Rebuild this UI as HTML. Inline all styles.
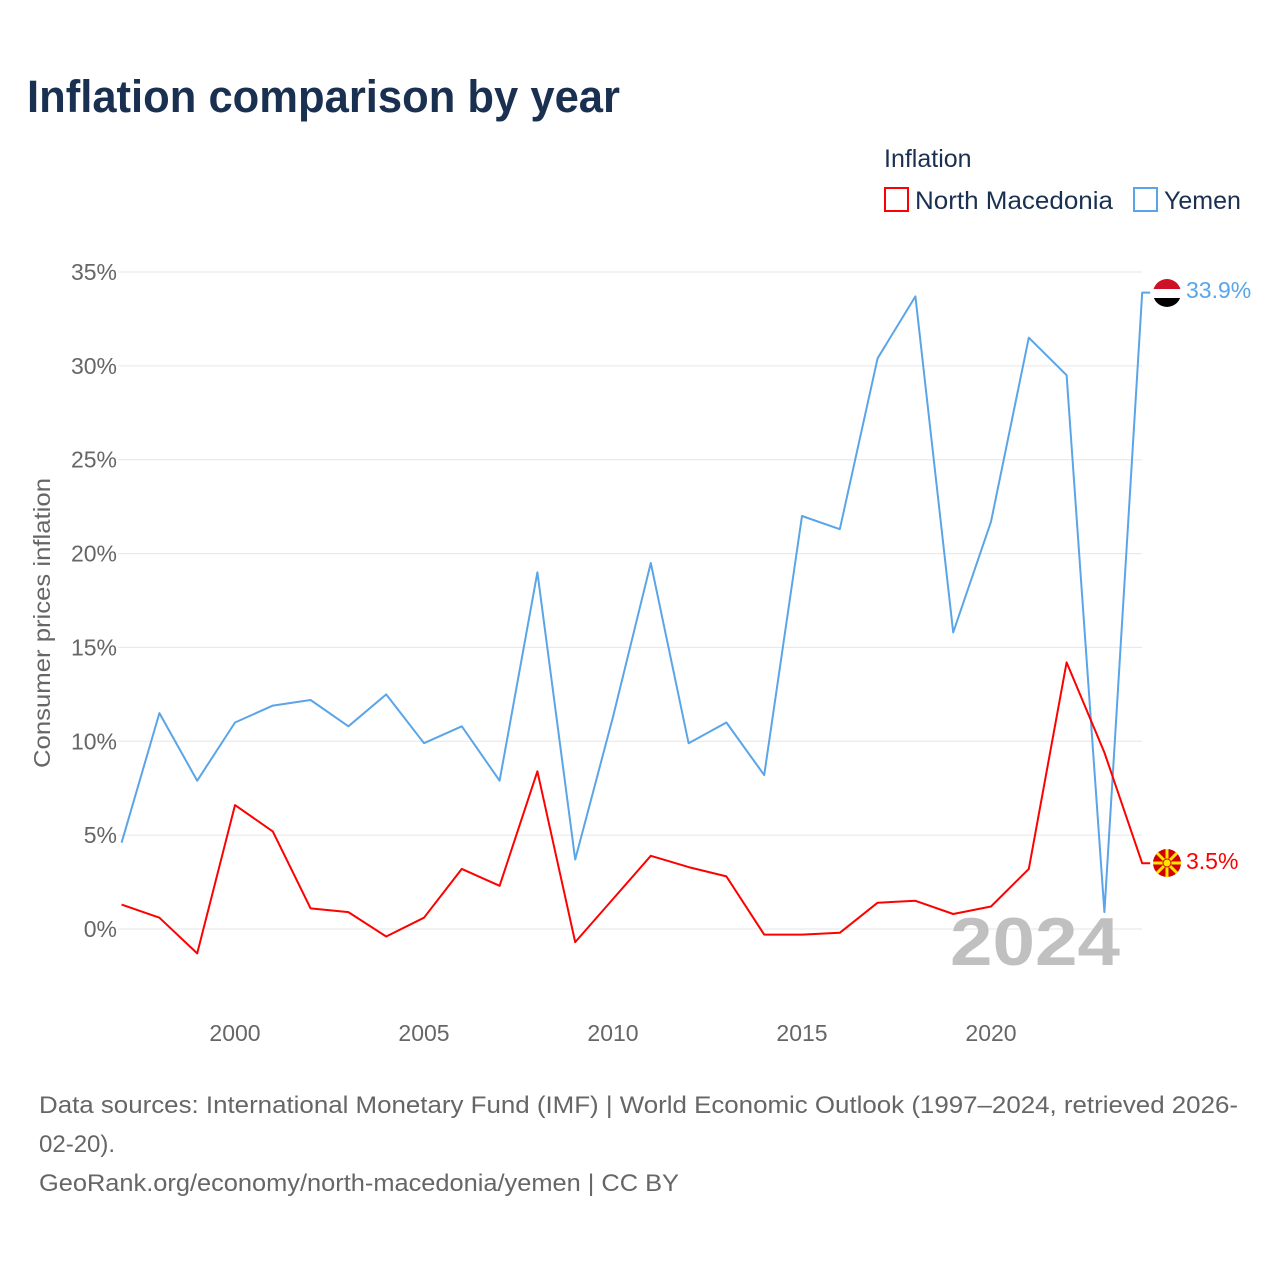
<!DOCTYPE html>
<html><head><meta charset="utf-8">
<style>
body{margin:0;background:#fff;font-family:"Liberation Sans",sans-serif;}
#wrap{position:relative;width:1280px;height:1280px;overflow:hidden;}
</style></head>
<body>
<div id="wrap">
<svg id="chart" width="1280" height="1280" xmlns="http://www.w3.org/2000/svg">
<text x="27" y="112" font-size="45" font-weight="bold" fill="#1a3050" textLength="593" lengthAdjust="spacingAndGlyphs">Inflation comparison by year</text>
<text x="884" y="167" font-size="25" fill="#1a3050">Inflation</text>
<g>
<rect x="885" y="188" width="23" height="23" fill="none" stroke="#ff0000" stroke-width="2"/>
<text x="915" y="209" font-size="25" fill="#1a3050" textLength="198" lengthAdjust="spacingAndGlyphs">North Macedonia</text></g>
<g>
<rect x="1134" y="188" width="23" height="23" fill="none" stroke="#5aa5e8" stroke-width="2"/>
<text x="1164" y="209" font-size="25" fill="#1a3050">Yemen</text></g>
<text transform="translate(50,623) rotate(-90)" text-anchor="middle" font-size="23" fill="#666" textLength="290" lengthAdjust="spacingAndGlyphs">Consumer prices inflation</text>
<g id="grid"></g><g id="xt"></g>
<text x="950" y="965" font-size="68" font-weight="bold" fill="#c0c0c0" textLength="170" lengthAdjust="spacingAndGlyphs">2024</text>
<g id="lines"></g>
<g>
<clipPath id="c1"><circle cx="1167" cy="293" r="14"/></clipPath>
<g clip-path="url(#c1)"><rect x="1150" y="279" width="34" height="10" fill="#ce1126"/><rect x="1150" y="289" width="34" height="9" fill="#fff"/><rect x="1150" y="298" width="34" height="10" fill="#000"/></g></g>
<g>
<circle cx="1167" cy="863" r="14" fill="#d20000"/>
<g stroke="#ffe600" stroke-width="3"><line x1="1153" y1="863" x2="1181" y2="863"/><line x1="1167" y1="849" x2="1167" y2="877"/><line x1="1157" y1="853" x2="1177" y2="873"/><line x1="1177" y1="853" x2="1157" y2="873"/></g>
<circle cx="1167" cy="863" r="4" fill="#ffe600" stroke="#d20000" stroke-width="1"/></g>
<text x="1186" y="298" font-size="23" fill="#5aa5e8">33.9%</text>
<text x="1186" y="869" font-size="23" fill="#ff0000">3.5%</text>
<g font-size="24" fill="#666">
<text x="39" y="1113" textLength="1199" lengthAdjust="spacingAndGlyphs">Data sources: International Monetary Fund (IMF) | World Economic Outlook (1997–2024, retrieved 2026-</text>
<text x="39" y="1152">02-20).</text>
<text x="39" y="1191" textLength="640" lengthAdjust="spacingAndGlyphs">GeoRank.org/economy/north-macedonia/yemen | CC BY</text></g>
</svg>
</div>
<script>
const years=[1997,1998,1999,2000,2001,2002,2003,2004,2005,2006,2007,2008,2009,2010,2011,2012,2013,2014,2015,2016,2017,2018,2019,2020,2021,2022,2023,2024];
const yemen=[4.6,11.5,7.9,11.0,11.9,12.2,10.8,12.5,9.9,10.8,7.9,19.0,3.7,11.3,19.5,9.9,11.0,8.2,22.0,21.3,30.4,33.7,15.8,21.7,31.5,29.5,0.9,33.9];
const macedonia=[1.3,0.6,-1.3,6.6,5.2,1.1,0.9,-0.4,0.6,3.2,2.3,8.4,-0.7,1.6,3.9,3.3,2.8,-0.3,-0.3,-0.2,1.4,1.5,0.8,1.2,3.2,14.2,9.4,3.5];
const yTicks=[0,5,10,15,20,25,30,35];
const xTicks=[2000,2005,2010,2015,2020];
const NS="http://www.w3.org/2000/svg";
const X=y=>235+(y-2000)*37.8;
const Y=v=>929-v*(657/35);
const grid=document.getElementById('grid');
yTicks.forEach(t=>{
 const l=document.createElementNS(NS,'line');
 l.setAttribute('x1',118);l.setAttribute('x2',1142);l.setAttribute('y1',Y(t));l.setAttribute('y2',Y(t));
 l.setAttribute('stroke','#e6e6e6');l.setAttribute('stroke-width',1);
 
 
 grid.appendChild(l);
 const tx=document.createElementNS(NS,'text');
 tx.setAttribute('x',117);tx.setAttribute('y',Y(t)+8);tx.setAttribute('text-anchor','end');
 tx.setAttribute('font-size',23);tx.setAttribute('fill','#666');tx.textContent=t+'%';
 
 
 grid.appendChild(tx);
});
const xt=document.getElementById('xt');
xTicks.forEach(t=>{
 const tx=document.createElementNS(NS,'text');
 tx.setAttribute('x',X(t));tx.setAttribute('y',1041);tx.setAttribute('text-anchor','middle');
 tx.setAttribute('font-size',23);tx.setAttribute('fill','#666');tx.textContent=t;
 
 
 xt.appendChild(tx);
});
function line(vals,color,name){
 let d=vals.map((v,i)=>(i?'L':'M')+X(years[i]).toFixed(1)+','+Y(v).toFixed(1)).join(' ');
 d+=' L'+(X(years[years.length-1])+8)+','+Y(vals[vals.length-1]).toFixed(1);
 const p=document.createElementNS(NS,'path');
 p.setAttribute('d',d);p.setAttribute('fill','none');p.setAttribute('stroke',color);p.setAttribute('stroke-width',2);
 p.setAttribute('stroke-linejoin','round');
 
 
 document.getElementById('lines').appendChild(p);
}
line(yemen,'#5aa5e8','yemen-line');
line(macedonia,'#ff0000','north-macedonia-line');
</script>
</body></html>
